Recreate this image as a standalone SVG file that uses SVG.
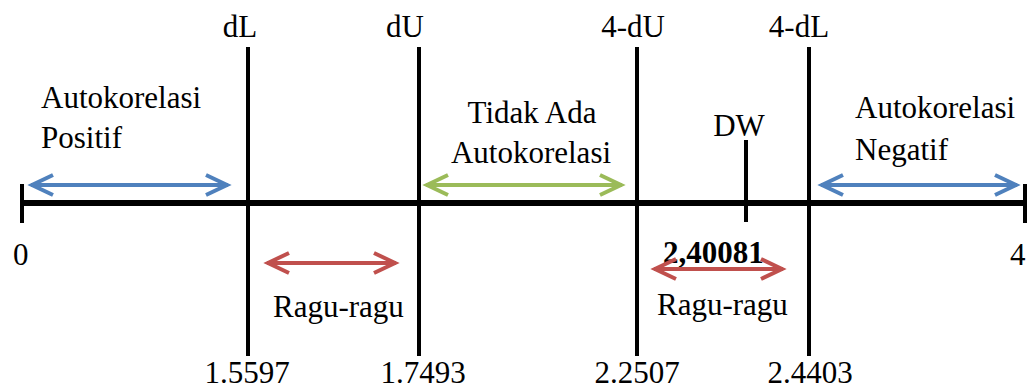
<svg xmlns="http://www.w3.org/2000/svg" width="1027" height="389" viewBox="0 0 1027 389">
<style>
text{font-family:"Liberation Serif","Times New Roman",serif;font-size:31px;fill:#000}
.b{font-weight:bold}
.m{text-anchor:middle}
.ax{stroke:#000;fill:none}
.arr{fill:none;stroke-width:4}
</style>
<defs>
<marker id="hb" viewBox="-26 -14 30 28" markerWidth="30" markerHeight="28" refX="0" refY="0" orient="auto-start-reverse" markerUnits="userSpaceOnUse"><path d="M-22,-10 L-1,0 L-22,10" fill="none" stroke="#4F81BD" stroke-width="4"/></marker>
<marker id="hg" viewBox="-26 -14 30 28" markerWidth="30" markerHeight="28" refX="0" refY="0" orient="auto-start-reverse" markerUnits="userSpaceOnUse"><path d="M-22,-10 L-1,0 L-22,10" fill="none" stroke="#9BBB59" stroke-width="4"/></marker>
<marker id="hr" viewBox="-26 -14 30 28" markerWidth="30" markerHeight="28" refX="0" refY="0" orient="auto-start-reverse" markerUnits="userSpaceOnUse"><path d="M-22,-10 L-1,0 L-22,10" fill="none" stroke="#C0504D" stroke-width="4"/></marker>
</defs>
<rect width="1027" height="389" fill="#fff"/>
<g id="axis">
<line class="ax" x1="22" y1="203" x2="1027" y2="203" stroke-width="6"/>
<line class="ax" x1="22" y1="184" x2="22" y2="223" stroke-width="4"/>
<line class="ax" x1="1025" y1="184" x2="1025" y2="223" stroke-width="4"/>
<text x="13" y="265">0</text>
<text x="1010" y="265">4</text>
</g>
<g id="dL">
<line class="ax" x1="248" y1="47" x2="248" y2="356" stroke-width="4"/>
<text class="m" x="240" y="37">dL</text>
<text class="m" x="247" y="383">1.5597</text>
</g>
<g id="dU">
<line class="ax" x1="419" y1="47" x2="419" y2="356" stroke-width="4"/>
<text class="m" x="405" y="37">dU</text>
<text class="m" x="423" y="383">1.7493</text>
</g>
<g id="4-dU">
<line class="ax" x1="637" y1="47" x2="637" y2="356" stroke-width="4"/>
<text class="m" x="633" y="37">4-dU</text>
<text class="m" x="637" y="383">2.2507</text>
</g>
<g id="4-dL">
<line class="ax" x1="809" y1="47" x2="809" y2="356" stroke-width="4"/>
<text class="m" x="799" y="37">4-dL</text>
<text class="m" x="810" y="383">2.4403</text>
</g>
<g id="DW">
<line class="ax" x1="746" y1="140" x2="746" y2="222" stroke-width="4"/>
<text class="m" x="739" y="136">DW</text>
<text class="b" x="663" y="263">2,40081</text>
</g>
<g id="positif">
<text x="41" y="108">Autokorelasi</text>
<text x="41" y="148">Positif</text>
</g>
<g id="tidak-ada">
<text class="m" x="532" y="123">Tidak Ada</text>
<text class="m" x="531" y="163">Autokorelasi</text>
</g>
<g id="negatif">
<text x="855" y="118">Autokorelasi</text>
<text x="855" y="160">Negatif</text>
</g>
<g id="ragu1">
<text x="273" y="317">Ragu-ragu</text>
</g>
<g id="ragu2">
<text x="657" y="315">Ragu-ragu</text>
</g>
<g id="connectors">
<line class="arr" stroke="#4F81BD" x1="31" y1="185" x2="228" y2="185" marker-start="url(#hb)" marker-end="url(#hb)"/>
<line class="arr" stroke="#9BBB59" x1="426" y1="185" x2="622" y2="185" marker-start="url(#hg)" marker-end="url(#hg)"/>
<line class="arr" stroke="#4F81BD" x1="821" y1="185" x2="1017" y2="185" marker-start="url(#hb)" marker-end="url(#hb)"/>
<line class="arr" stroke="#C0504D" x1="267" y1="263" x2="396" y2="263" marker-start="url(#hr)" marker-end="url(#hr)"/>
<line class="arr" stroke="#C0504D" x1="654" y1="269" x2="783" y2="269" marker-start="url(#hr)" marker-end="url(#hr)"/>
</g>
</svg>
